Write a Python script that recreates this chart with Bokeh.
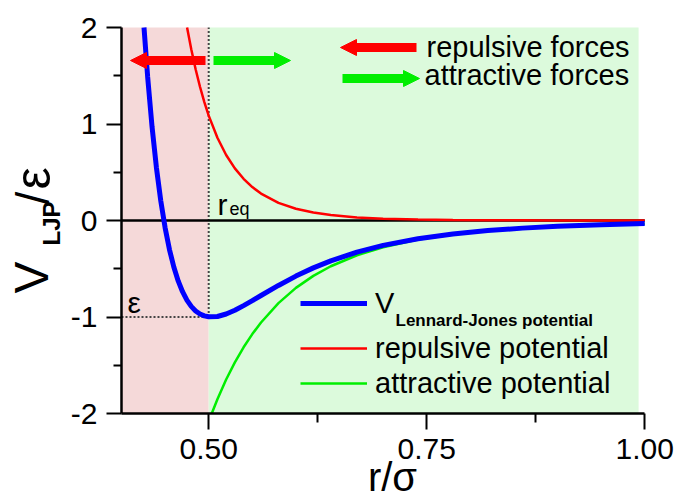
import math
from bokeh.plotting import figure
from bokeh.models import (FixedTicker, Label, Arrow, NormalHead, Legend,
                          LegendItem, NumeralTickFormatter)
from bokeh.embed import file_html
from bokeh.resources import INLINE

# ---------------- data ----------------
r_lj = [0.4258, 0.43, 0.435, 0.44, 0.445, 0.45, 0.455, 0.46, 0.465, 0.47, 0.475,
        0.48, 0.485, 0.49, 0.495, 0.50, 0.51, 0.52, 0.53, 0.54, 0.55, 0.56, 0.58,
        0.60, 0.62, 0.64, 0.67, 0.70, 0.74, 0.78, 0.82, 0.86, 0.90, 0.95, 1.00]
v_lj = [2.000, 1.488, 0.973, 0.551, 0.206, -0.074, -0.301, -0.482, -0.626, -0.738, -0.825,
        -0.890, -0.937, -0.969, -0.988, -0.998, -0.995, -0.969, -0.930, -0.882, -0.831, -0.777, -0.673,
        -0.576, -0.491, -0.418, -0.328, -0.258, -0.189, -0.139, -0.104, -0.079, -0.060, -0.044, -0.032]

r_rep = [0.4752, 0.48, 0.485, 0.49, 0.495, 0.50, 0.51, 0.52, 0.53, 0.54, 0.55,
         0.56, 0.58, 0.60, 0.62, 0.64, 0.67, 0.70, 0.74, 0.78, 0.82, 0.86, 0.90, 0.95, 1.00]
v_rep = [2.000, 1.775, 1.567, 1.386, 1.227, 1.087, 0.857, 0.679, 0.540, 0.432, 0.346,
         0.279, 0.183, 0.122, 0.082, 0.056, 0.032, 0.019, 0.010, 0.005, 0.003, 0.002, 0.001, 0.0005, 0.0003]

r_att = [0.5035, 0.51, 0.52, 0.53, 0.54, 0.55, 0.56, 0.58, 0.60, 0.62, 0.64, 0.67, 0.70,
         0.74, 0.78, 0.82, 0.86, 0.90, 0.95, 1.00]
v_att = [-2.000, -1.852, -1.648, -1.470, -1.314, -1.177, -1.057, -0.856, -0.698, -0.574, -0.474, -0.360, -0.277,
         -0.198, -0.145, -0.107, -0.081, -0.061, -0.044, -0.033]

x_ticks = [0.50, 0.75, 1.00]
x_minor = [0.625, 0.875]
y_ticks = [-2, -1, 0, 1, 2]
y_minor = [-1.5, -0.5, 0.5, 1.5]

r_eq = 0.50          # equilibrium distance marker
eps_level = -1.0     # well depth marker
repulsive_zone = (0.40, 0.50)
attractive_zone = (0.50, 0.993)

FONT = "Liberation Sans"

# ---------------- layout ----------------
W, H = 678, 502
X0, X1, Y0, Y1 = 0.40, 1.00, -2.0, 2.0          # axis extents
FL, FB = 121, 413                                 # pixel position of (X0, Y0)
PX_X = 872.0                                      # pixels per x unit
PX_Y = 96.5                                       # pixels per y unit

def dx(cx):
    return X0 + (cx - FL) / PX_X

def dy(cy):
    return Y0 + (FB - cy) / PX_Y

p = figure(width=W, height=H, x_range=(dx(0), dx(W)), y_range=(dy(H), dy(0)),
           output_backend="svg", toolbar_location=None)
p.min_border = 0
p.min_border_left = 0
p.min_border_right = 0
p.min_border_top = 0
p.min_border_bottom = 0
p.outline_line_color = None
p.grid.visible = False
p.background_fill_color = "white"
p.border_fill_color = "white"

# shaded zones
p.quad(left=[repulsive_zone[0]], right=[repulsive_zone[1]], bottom=[Y0], top=[Y1],
       fill_color="#f5d9d9", line_color=None)
p.quad(left=[attractive_zone[0]], right=[attractive_zone[1]], bottom=[Y0], top=[Y1],
       fill_color="#dcfadc", line_color=None)

# dotted markers
p.line([r_eq, r_eq], [eps_level, Y1], line_color="#444444", line_width=2, line_dash="2 2")
p.line([X0, r_eq], [eps_level, eps_level], line_color="#444444", line_width=2, line_dash="2 2")

# zero line
p.segment(x0=[X0], y0=[0], x1=[X1], y1=[0], line_color="black", line_width=2.5)

# curves
g_att = p.line(r_att, v_att, line_color="#00ee00", line_width=2.5)
g_rep = p.line(r_rep, v_rep, line_color="#ff0000", line_width=2.5)
g_lj = p.line(r_lj, v_lj, line_color="#0000ff", line_width=5)

# axes (placed at fixed data locations)
for ax in (p.xaxis[0], p.yaxis[0]):
    ax.axis_line_width = 2.5
    ax.axis_line_color = "black"
    ax.major_tick_line_width = 2
    ax.minor_tick_line_width = 2
    ax.major_tick_in = 0
    ax.minor_tick_in = 0
    ax.major_label_text_font = FONT
    ax.major_label_text_font_size = "30px"
    ax.major_label_text_color = "black"

xa = p.xaxis[0]
xa.fixed_location = Y0
xa.bounds = (X0, X1)
xa.ticker = FixedTicker(ticks=x_ticks, minor_ticks=x_minor)
xa.formatter = NumeralTickFormatter(format="0.00")
xa.major_tick_out = 16
xa.minor_tick_out = 9
xa.major_label_standoff = 9

ya = p.yaxis[0]
ya.fixed_location = X0
ya.bounds = (Y0, Y1)
ya.ticker = FixedTicker(ticks=y_ticks, minor_ticks=y_minor)
ya.formatter = NumeralTickFormatter(format="0")
ya.major_tick_out = 15
ya.minor_tick_out = 8
ya.major_label_standoff = 9

# force arrows
def arrow(cx0, cy0, cx1, cy1, color, lw=9, size=16):
    head = NormalHead(size=size, fill_color=color, line_color=color, line_width=1)
    p.add_layout(Arrow(end=head, x_start=dx(cx0), y_start=dy(cy0), x_end=dx(cx1), y_end=dy(cy1),
                       line_color=color, line_width=lw))

arrow(205, 60, 130, 60, "#ff0000")
arrow(213, 60, 290, 60, "#00ee00")
arrow(416, 47, 340, 47, "#ff0000")
arrow(342, 78, 419, 78, "#00ee00")

BASE_SHIFT = 0.29   # empirical baseline correction (fraction of font size)

def label(cx, cy, text, size, bold=False, rotated=False, align="left"):
    if rotated:
        ax_, ay_ = cx - BASE_SHIFT * size, cy
    else:
        ax_, ay_ = cx, cy - BASE_SHIFT * size
    p.add_layout(Label(x=dx(ax_), y=dy(ay_), text=text, text_font=FONT,
                       text_font_size=f"{size}px", text_color="black",
                       text_font_style="bold" if bold else "normal",
                       angle=math.pi / 2 if rotated else 0.0,
                       text_align=align, text_baseline="alphabetic"))

label(426, 55, "repulsive forces", 29)
label(424, 83, "attractive forces", 29)
label(217, 213, "r", 30)
label(229, 214, "eq", 18)
label(127, 311, "ε", 30)
label(395, 325, "Lennard-Jones potential", 17, bold=True)

# axis titles
label(45, 293, "V", 48, rotated=True)
label(58, 245, "LJP", 24, bold=True, rotated=True)
label(46, 204, "/", 46, rotated=True)
label(47, 189, "ε", 50, rotated=True)
label(392, 488, "r/σ", 40, align="center")

# legends (location = bottom-left of legend box, in frame pixels from bottom-left)
def make_legend(items, cx, cy_last_row, spacing):
    lg = Legend(items=items, location=(cx, H - cy_last_row - 17), orientation="vertical",
                label_text_font=FONT, label_text_font_size="29px", label_text_color="black",
                glyph_width=67, glyph_height=34, label_height=34, label_standoff=8,
                spacing=spacing, padding=0, margin=0,
                background_fill_alpha=0, border_line_alpha=0)
    p.add_layout(lg)

make_legend([LegendItem(label="V", renderers=[g_lj])], 300, 303, 0)
make_legend([LegendItem(label="repulsive potential", renderers=[g_rep]),
             LegendItem(label="attractive potential", renderers=[g_att])], 300, 383, 1)

open("out.html", "w").write(file_html(p, INLINE))
